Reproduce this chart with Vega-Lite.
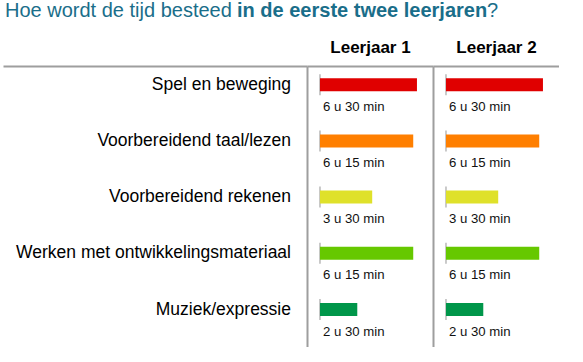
{
  "$schema": "https://vega.github.io/schema/vega-lite/v6.json",
  "background": "white",
  "padding": {"top": 1, "left": 3, "right": 0, "bottom": 0},
  "config": {
    "font": "Liberation Sans",
    "view": {"stroke": null},
    "title": {"fontSize": 20, "color": "#1a6e8a", "anchor": "start", "offset": 17, "font": "Liberation Sans"}
  },
  "data": {
    "values": [
      {"jaar": "Leerjaar 1", "activiteit": "Spel en beweging", "uren": 6.5, "label": "6 u 30 min"},
      {"jaar": "Leerjaar 1", "activiteit": "Voorbereidend taal/lezen\u00a0", "uren": 6.25, "label": "6 u 15 min"},
      {"jaar": "Leerjaar 1", "activiteit": "Voorbereidend rekenen", "uren": 3.5, "label": "3 u 30 min"},
      {"jaar": "Leerjaar 1", "activiteit": "Werken met ontwikkelingsmateriaal", "uren": 6.25, "label": "6 u 15 min"},
      {"jaar": "Leerjaar 1", "activiteit": "Muziek/expressie\u00a0", "uren": 2.5, "label": "2 u 30 min"},
      {"jaar": "Leerjaar 2", "activiteit": "Spel en beweging", "uren": 6.5, "label": "6 u 30 min"},
      {"jaar": "Leerjaar 2", "activiteit": "Voorbereidend taal/lezen\u00a0", "uren": 6.25, "label": "6 u 15 min"},
      {"jaar": "Leerjaar 2", "activiteit": "Voorbereidend rekenen", "uren": 3.5, "label": "3 u 30 min"},
      {"jaar": "Leerjaar 2", "activiteit": "Werken met ontwikkelingsmateriaal", "uren": 6.25, "label": "6 u 15 min"},
      {"jaar": "Leerjaar 2", "activiteit": "Muziek/expressie\u00a0", "uren": 2.5, "label": "2 u 30 min"}
    ]
  },
  "bounds": "flush",
  "spacing": 0,
  "resolve": {"scale": {"x": "independent"}},
  "hconcat": [
    {
      "width": 304,
      "height": 281,
      "title": {"text": "Hoe wordt de tijd besteed", "fontWeight": "normal", "dx": 2},
      "transform": [{"filter": "datum.jaar === 'Leerjaar 1'"}],
      "mark": {"type": "text", "align": "right", "baseline": "middle", "fontSize": 17.5, "dx": -16, "color": "#000000"},
      "encoding": {
        "y": {"field": "activiteit", "type": "nominal", "sort": null,
              "scale": {"type": "point", "paddingOuter": 0.614, "align": 0.333}, "axis": null},
        "x": {"datum": 1, "type": "quantitative", "scale": {"domain": [0, 1]},
              "axis": {"orient": "top", "labels": false, "ticks": false, "grid": false,
                       "domainColor": "#9e9e9e", "domainWidth": 2, "title": " ",
                       "titleFontSize": 17, "titleFontWeight": "bold", "titlePadding": 10}},
        "text": {"field": "activiteit"}
      }
    },
    {
      "width": 126,
      "height": 281,
      "title": {"text": "in de eerste twee leerjaren", "fontWeight": "bold", "dx": -70},
      "transform": [{"filter": "datum.jaar === 'Leerjaar 1'"}],
      "encoding": {
        "y": {"field": "activiteit", "type": "nominal", "sort": null,
              "scale": {"type": "point", "paddingOuter": 0.614, "align": 0.333},
              "axis": {"labels": false, "ticks": false, "title": null, "grid": false,
                       "domainColor": "#9e9e9e", "domainWidth": 2}},
        "x": {"field": "uren", "type": "quantitative",
              "scale": {"domain": [-0.87, 7.575], "nice": false, "zero": false},
              "axis": {"orient": "top", "labels": false, "ticks": false, "grid": false,
                       "domainColor": "#9e9e9e", "domainWidth": 2, "title": "Leerjaar 1",
                       "titleFontSize": 17, "titleFontWeight": "bold", "titleColor": "#000000", "titlePadding": 10}}
      },
      "layer": [
        {"mark": {"type": "tick", "orient": "vertical", "size": 21, "thickness": 1.5, "color": "#9a9a9a"},
         "encoding": {"x": {"datum": 0, "type": "quantitative"}}},
        {"mark": {"type": "bar", "size": 13},
         "encoding": {"color": {"field": "activiteit", "type": "nominal", "sort": null,
                                "scale": {"range": ["#e00000", "#ff7f00", "#dfe12a", "#66c800", "#00964a"]}, "legend": null}}},
        {"mark": {"type": "text", "align": "left", "baseline": "middle", "fontSize": 13.2, "dx": 3, "dy": 22, "color": "#111111"},
         "encoding": {"x": {"datum": 0, "type": "quantitative"}, "text": {"field": "label"}}}
      ]
    },
    {
      "width": 126,
      "height": 281,
      "title": {"text": "?", "fontWeight": "normal", "dx": 54},
      "transform": [{"filter": "datum.jaar === 'Leerjaar 2'"}],
      "encoding": {
        "y": {"field": "activiteit", "type": "nominal", "sort": null,
              "scale": {"type": "point", "paddingOuter": 0.614, "align": 0.333},
              "axis": {"labels": false, "ticks": false, "title": null, "grid": false,
                       "domainColor": "#9e9e9e", "domainWidth": 2}},
        "x": {"field": "uren", "type": "quantitative",
              "scale": {"domain": [-0.87, 7.575], "nice": false, "zero": false},
              "axis": {"orient": "top", "labels": false, "ticks": false, "grid": false,
                       "domainColor": "#9e9e9e", "domainWidth": 2, "title": "Leerjaar 2",
                       "titleFontSize": 17, "titleFontWeight": "bold", "titleColor": "#000000", "titlePadding": 10}}
      },
      "layer": [
        {"mark": {"type": "tick", "orient": "vertical", "size": 21, "thickness": 1.5, "color": "#9a9a9a"},
         "encoding": {"x": {"datum": 0, "type": "quantitative"}}},
        {"mark": {"type": "bar", "size": 13},
         "encoding": {"color": {"field": "activiteit", "type": "nominal", "sort": null,
                                "scale": {"range": ["#e00000", "#ff7f00", "#dfe12a", "#66c800", "#00964a"]}, "legend": null}}},
        {"mark": {"type": "text", "align": "left", "baseline": "middle", "fontSize": 13.2, "dx": 3, "dy": 22, "color": "#111111"},
         "encoding": {"x": {"datum": 0, "type": "quantitative"}, "text": {"field": "label"}}}
      ]
    }
  ]
}
